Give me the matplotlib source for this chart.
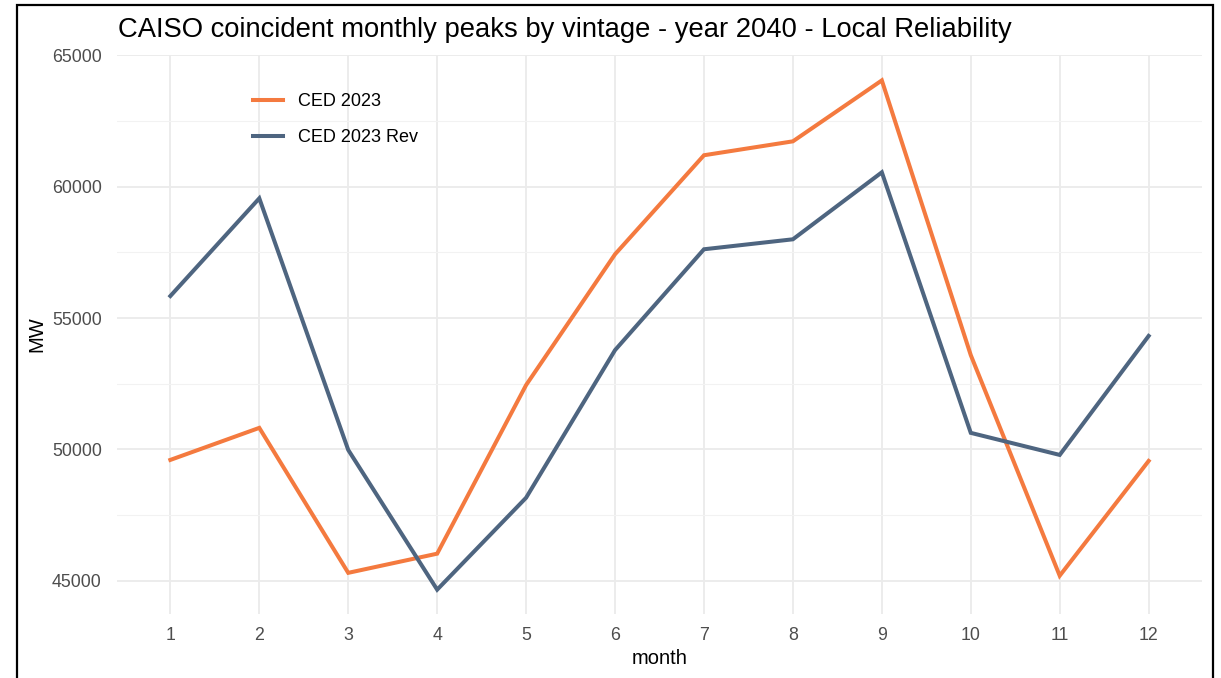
import matplotlib.pyplot as plt
from matplotlib.patches import Rectangle
from matplotlib.ticker import MultipleLocator

# --- data ---
months = [1, 2, 3, 4, 5, 6, 7, 8, 9, 10, 11, 12]
ced_2023 = [49600, 50820, 45300, 46030, 52450, 57430, 61200, 61730, 64050, 53590, 45190, 49560]
ced_2023_rev = [55840, 59560, 49980, 44660, 48160, 53780, 57620, 58000, 60550, 50630, 49790, 54320]
series_names = ["CED 2023", "CED 2023 Rev"]
series_colors = ["#F47A3F", "#4E6580"]

plt.rcParams['font.family'] = ['Liberation Sans', 'DejaVu Sans']

fig = plt.figure(figsize=(12.21, 6.78), dpi=100)
ax = fig.add_axes([117 / 1221, 1 - 614 / 678, (1202 - 117) / 1221, (614 - 55) / 678])

for vals, name, col in zip([ced_2023, ced_2023_rev], series_names, series_colors):
    ax.plot(months, vals, color=col, lw=2.9, label=name, solid_joinstyle='miter')

ax.set_xlim(0.4, 12.6)
ax.set_ylim(43733, 65017)
ax.set_xticks(months)
ax.yaxis.set_major_locator(MultipleLocator(5000))
ax.yaxis.set_minor_locator(MultipleLocator(2500))
ax.grid(which='major', color='#EBEBEB', lw=1.3)
ax.grid(which='minor', axis='y', color='#F2F2F2', lw=0.8)
ax.set_axisbelow(True)
for s in ax.spines.values():
    s.set_visible(False)
ax.tick_params(which='both', length=0, labelsize=12.8, labelcolor='#4D4D4D')
ax.tick_params(axis='y', pad=11)
ax.tick_params(axis='x', pad=9)

ax.set_xlabel('month', fontsize=14.5, labelpad=4)
ax.set_ylabel('MW', fontsize=14.5, labelpad=4)

fig.text(118 / 1221, 1 - 30 / 678, 'CAISO coincident monthly peaks by vintage - year 2040 - Local Reliability',
         fontsize=19.7, va='center', ha='left')

ax.legend(loc='upper left', bbox_to_anchor=(0.110, 0.961), frameon=False, fontsize=13,
          handlelength=1.7, handletextpad=0.8, labelspacing=1.05)

# outer frame
fig.patches.append(Rectangle((17 / 1221, -0.05), (1213 - 17) / 1221, 1.05 - 5 / 678,
                             transform=fig.transFigure, fill=False, ec='black', lw=1.6))

fig.savefig('out.png', dpi=100, facecolor='white')
